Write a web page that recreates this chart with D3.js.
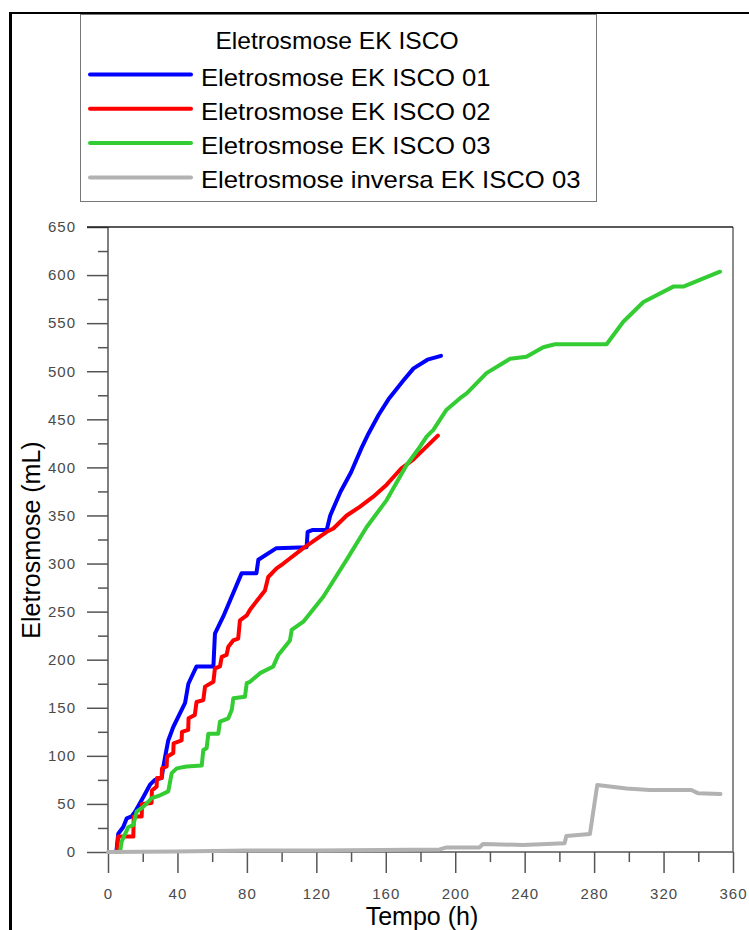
<!DOCTYPE html>
<html>
<head>
<meta charset="utf-8">
<script src="https://cdn.jsdelivr.net/npm/d3@7"></script>
<style>
  html, body { margin: 0; padding: 0; background: #fff; }
  svg { display: block; font-family: "Liberation Sans", Arial, sans-serif; }
</style>
</head>
<body>
<svg id="chart" width="749" height="930"></svg>
<script>
// series: time (h) and volume (mL)
var blueT = [4.8, 5.9, 8.8, 10.8, 13.6, 15.6, 20.3, 24.2, 27, 30.9, 31.9, 33, 34.7, 37.6, 44.4, 46.3, 51, 60.7, 61.6, 66.4, 77, 85.5, 86.6, 97, 114.4, 115, 118, 126, 128, 134, 140, 146, 150, 156, 162, 170, 176, 184, 191.8];
var blueV = [0, 19, 26, 35, 37, 42, 57, 70, 75, 77, 89, 100, 116, 130, 155, 175, 193, 193, 227, 245, 290, 290, 304, 316, 317, 333, 335, 335, 350, 375, 395, 420, 435, 455, 472, 490, 503, 512, 516];

var redT = [5, 5.9, 14.6, 14.8, 19.4, 19.6, 25.1, 25.3, 28, 28.2, 30.9, 31.1, 33.8, 34, 37.6, 37.8, 42.4, 42.6, 46.2, 46.4, 50, 51, 54.9, 55.9, 60.7, 61.6, 64.5, 65.5, 68.3, 69.3, 72.1, 75, 76, 79.9, 81.8, 90.4, 92.3, 97.1, 101, 112.5, 126, 129.8, 137.5, 145, 152.8, 160.5, 167.2, 169, 175.8, 190];
var redV = [0, 16, 16, 37, 37, 50, 51, 64, 68, 77, 77, 87, 89, 99, 103, 113, 116, 125, 127, 139, 142.5, 156, 158, 172, 177, 191, 193, 203, 205, 213.5, 220, 222, 241, 246, 252, 272, 286, 295, 300, 316, 333, 336.5, 350, 359, 369.5, 382, 395.5, 399, 408, 433];

var greenT = [6.9, 7.9, 11.7, 14.6, 16.5, 20.3, 25.2, 30, 34.7, 36.7, 39.6, 45.3, 54, 54.9, 56.8, 57.8, 63.5, 64.5, 69.3, 71.3, 72.2, 78.9, 79.9, 81.8, 87.6, 95.2, 98.1, 104.8, 105.8, 112.5, 124, 137.5, 149, 160.5, 172, 179.7, 183.5, 187.4, 195, 202.8, 206.6, 218, 231.6, 241, 250.7, 257.5, 287.2, 296.8, 308.4, 325.6, 331.4, 352.5];
var greenV = [0, 11, 26, 28, 42, 47, 56, 59, 63, 82, 87, 89, 90, 106, 108, 123, 123, 135.5, 139, 148, 160, 161.5, 175.6, 177, 186, 193, 205, 220, 231, 239.5, 265.5, 304, 338, 366, 402.5, 421.5, 432, 439, 460, 472, 477, 498, 513, 515, 525, 528, 528, 551.5, 572, 588, 588, 603.5];

var grayT = [0, 40, 80, 120, 156.7, 191, 195, 214, 216, 239, 263, 264, 277.6, 281.8, 298.7, 312, 336, 340, 352.8];
var grayV = [0, 0.5, 1.5, 1.5, 2, 2.7, 4.8, 4.8, 8.3, 7.3, 9, 16.6, 18.7, 69.7, 66, 64.5, 64.5, 61, 60.3];

var seriesNames = ["Eletrosmose EK ISCO 01", "Eletrosmose EK ISCO 02", "Eletrosmose EK ISCO 03", "Eletrosmose inversa EK ISCO 03"];
var seriesColors = ["#0000ff", "#ff0000", "#33cc33", "#b2b2b2"];
var legendTitle = "Eletrosmose EK ISCO";

var xTicks = [0, 40, 80, 120, 160, 200, 240, 280, 320, 360];
var yTicks = [0, 50, 100, 150, 200, 250, 300, 350, 400, 450, 500, 550, 600, 650];

var svg = d3.select("#chart");

var x = d3.scaleLinear().domain([0, 360]).range([108, 733]);
var y = d3.scaleLinear().domain([0, 650]).range([852, 227]);

// outer frame (only top and left show in the picture)
svg.append("line").attr("x1", 9).attr("x2", 749).attr("y1", 13).attr("y2", 13)
  .attr("stroke", "#000").attr("stroke-width", 2);
svg.append("line").attr("x1", 10.5).attr("x2", 10.5).attr("y1", 12).attr("y2", 930)
  .attr("stroke", "#000").attr("stroke-width", 3);

//
// axes
//
var axisColor = "#555";

var yMajor = d3.axisLeft(y).tickValues(yTicks).tickSize(21).tickPadding(11);
var gy = svg.append("g").attr("transform", "translate(108,0)").call(yMajor);
var yMinor = d3.axisLeft(y).tickValues(d3.range(25, 650, 50)).tickSize(10).tickFormat("");
var gy2 = svg.append("g").attr("transform", "translate(108,0)").call(yMinor);

var xMajor = d3.axisBottom(x).tickValues(xTicks).tickSize(21).tickPadding(15);
var gx = svg.append("g").attr("transform", "translate(0,852)").call(xMajor);
var xMinor = d3.axisBottom(x).tickValues(d3.range(20, 360, 40)).tickSize(10).tickFormat("");
var gx2 = svg.append("g").attr("transform", "translate(0,852)").call(xMinor);

[gy, gy2, gx, gx2].forEach(function (g) {
  g.select(".domain").remove();
  g.selectAll("line").attr("stroke", axisColor).attr("stroke-width", 1.5);
  g.selectAll("text").attr("fill", "#4a4a4a").style("font-size", "15px")
    .style("letter-spacing", "1px")
    .style("font-family", "'Liberation Sans', Arial, sans-serif");
});

// plot box
svg.append("line").attr("x1", 108).attr("x2", 108).attr("y1", 227).attr("y2", 852)
  .attr("stroke", axisColor).attr("stroke-width", 1.5);
svg.append("line").attr("x1", 108).attr("x2", 733).attr("y1", 852).attr("y2", 852)
  .attr("stroke", axisColor).attr("stroke-width", 1.5);
svg.append("line").attr("x1", 733).attr("x2", 733).attr("y1", 227).attr("y2", 852)
  .attr("stroke", "#666").attr("stroke-width", 1.5);
svg.append("line").attr("x1", 87).attr("x2", 733).attr("y1", 227).attr("y2", 227)
  .attr("stroke", "#222").attr("stroke-width", 1.5);

// axis titles
svg.append("text")
  .attr("transform", "translate(40,540) rotate(-90)")
  .attr("text-anchor", "middle")
  .style("font-size", "25px")
  .text("Eletrosmose (mL)");

svg.append("text")
  .attr("x", 422).attr("y", 925)
  .attr("text-anchor", "middle")
  .style("font-size", "25px")
  .text("Tempo (h)");

//
// series lines
//
var line = d3.line()
  .x(function (d) { return x(d[0]); })
  .y(function (d) { return y(d[1]); });

var series = [
  d3.zip(blueT, blueV),
  d3.zip(redT, redV),
  d3.zip(greenT, greenV),
  d3.zip(grayT, grayV)
];

svg.append("g").selectAll("path")
  .data(series)
  .enter().append("path")
  .attr("d", line)
  .attr("fill", "none")
  .attr("stroke", function (d, i) { return seriesColors[i]; })
  .attr("stroke-width", 4)
  .attr("stroke-linejoin", "round")
  .attr("stroke-linecap", "round");

//
// legend
//
var legend = svg.append("g");
legend.append("rect")
  .attr("x", 80.5).attr("y", 14.5).attr("width", 516).attr("height", 187)
  .attr("fill", "#fff").attr("stroke", "#777").attr("stroke-width", 1);

legend.append("text")
  .attr("transform", "translate(337,49) scale(1.07,1)")
  .attr("text-anchor", "middle")
  .style("font-size", "23px")
  .text(legendTitle);

var items = legend.selectAll(".item")
  .data(seriesNames)
  .enter().append("g")
  .attr("class", "item")
  .attr("transform", function (d, i) { return "translate(0," + (74.5 + i * 34.3) + ")"; });

items.append("line")
  .attr("x1", 90).attr("x2", 191)
  .attr("stroke", function (d, i) { return seriesColors[i]; })
  .attr("stroke-width", 4)
  .attr("stroke-linecap", "round");

items.append("text")
  .attr("transform", "translate(201,11) scale(1.07,1)")
  .style("font-size", "24px")
  .text(function (d) { return d; });
</script>
</body>
</html>
